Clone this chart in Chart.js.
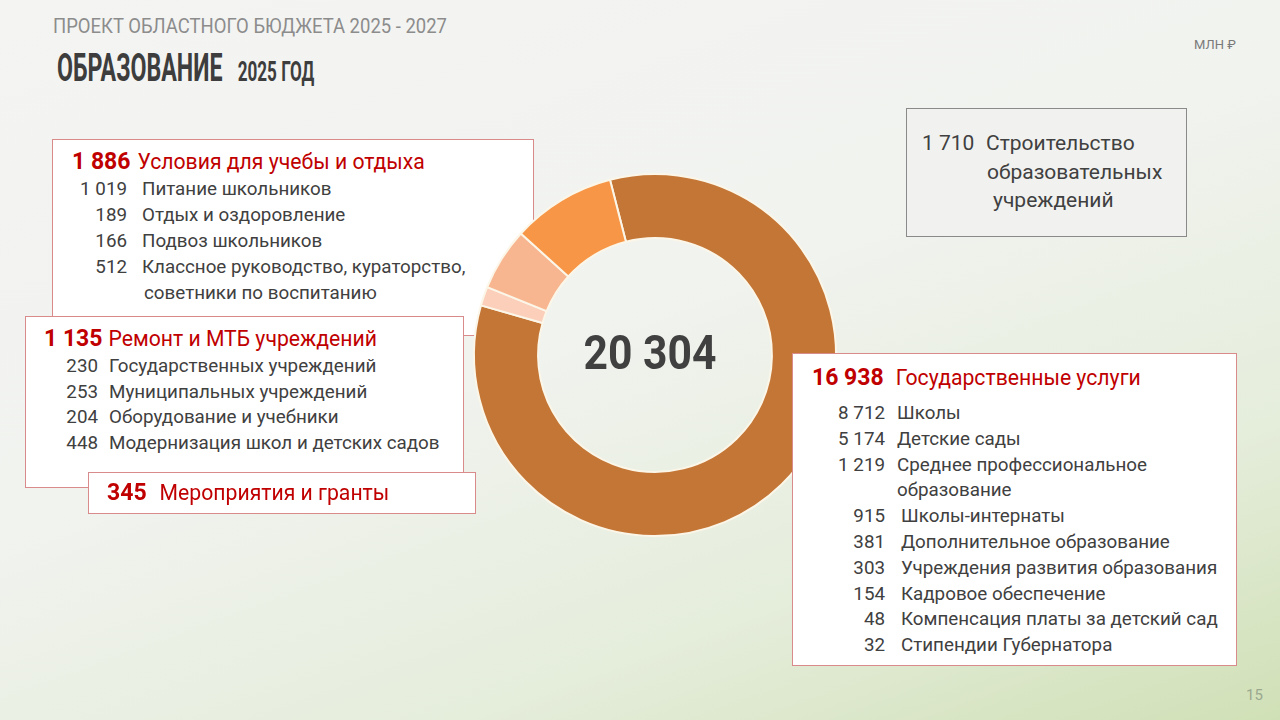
<!DOCTYPE html>
<html>
<head>
<meta charset="utf-8">
<script src="https://cdn.jsdelivr.net/npm/chart.js@4"></script>
<style>
  html, body { margin: 0; padding: 0; }
  body {
    width: 1280px; height: 720px; position: relative; overflow: hidden;
    font-family: Roboto, "Noto Sans", sans-serif;
    background: linear-gradient(160deg, #f4f4f3 0%, #f1f3ef 45%, #e5eddb 75%, #d0e0b6 100%);
    color: #404040;
  }
  .abs { position: absolute; white-space: nowrap; }
  .sup { left: 53px; top: 14px; font-size: 21px; color: #8c8c8c; transform: scaleX(0.88); transform-origin: left; }
  .title { left: 57px; top: 46px; font-size: 38px; font-weight: 700; color: #3d3d3d; transform: scaleX(0.61); transform-origin: left; }
  .title small { font-size: 28px; margin-left: 25px; }
  .unit { left: 1194px; top: 37px; font-size: 13px; color: #7a7a7a; }
  .page { left: 1246px; top: 686px; font-size: 15px; color: #9aa890; }
  .box { position: absolute; background: #fff; border: 1px solid #d98a8a; box-sizing: border-box; }
  .gray { background: #f1f2f0; border: 1px solid #8a8a8a; }
  .hd { position: absolute; white-space: nowrap; color: #c00000; font-size: 21.2px; }
  .hd b { font-weight: 700; font-size: 23px; }
  .ln { position: absolute; white-space: nowrap; font-size: 18.8px; color: #404040; }
  .num { position: absolute; text-align: right; }
  #wrap { position: absolute; left: 455px; top: 155px; width: 400px; height: 400px; }
  .total { left: 540px; top: 324px; width: 220px; text-align: center; font-size: 49px; font-weight: 700; color: #404040; transform: scaleX(0.87); }
</style>
</head>
<body>
<div class="abs sup">ПРОЕКТ ОБЛАСТНОГО БЮДЖЕТА 2025 - 2027</div>
<div class="abs title">ОБРАЗОВАНИЕ<small>2025 ГОД</small></div>
<div class="abs unit">МЛН ₽</div>
<div class="abs page">15</div>

<div class="box" id="box1" style="left:52px;top:139px;width:482px;height:197px;"></div>
<div id="wrap"><canvas id="donut" width="400" height="400"></canvas></div>
<div class="abs total" id="total"></div>
<div class="box" id="box2" style="left:25px;top:316px;width:439px;height:172px;"></div>
<div class="box" id="box3" style="left:88px;top:472px;width:388px;height:42px;"></div>
<div class="box" id="box4" style="left:792px;top:353px;width:445px;height:313px;"></div>
<div class="box gray" id="box5" style="left:906px;top:108px;width:281px;height:129px;"></div>

<script>
// Donut data (млн руб.)
const categories = ['Государственные услуги', 'Мероприятия и гранты', 'Ремонт и МТБ учреждений', 'Условия для учебы и отдыха'];
const amounts = [16938, 345, 1135, 1886];
const sliceColors = ['#c47636', '#fbcfba', '#f8b690', '#f79646'];

// Breakdown lists
const uslovItems = ['Питание школьников', 'Отдых и оздоровление', 'Подвоз  школьников', 'Классное руководство, кураторство,'];
const uslovValues = ['1 019', '189', '166', '512'];
const remontItems = ['Государственных учреждений', 'Муниципальных учреждений', 'Оборудование и учебники', 'Модернизация школ и детских садов'];
const remontValues = ['230', '253', '204', '448'];
const gosItems = ['Школы', 'Детские сады', 'Среднее профессиональное', 'образование', 'Школы-интернаты', 'Дополнительное образование',
  'Учреждения развития образования', 'Кадровое обеспечение', 'Компенсация платы за детский сад', 'Стипендии Губернатора'];
const gosValues = ['8 712', '5 174', '1 219', '', '915', '381', '303', '154', '48', '32'];
const stroyValue = '1 710';
const stroyLines = ['Строительство', 'образовательных', 'учреждений'];

function fmt(n) { return String(n).replace(/\B(?=(\d{3})+(?!\d))/g, ' '); }

const total = amounts.reduce((a, b) => a + b, 0);
document.getElementById('total').textContent = fmt(total);

function put(parent, cls, text, x, y, extra) {
  const d = document.createElement('div');
  d.className = cls;
  d.textContent = text;
  d.style.left = x + 'px';
  d.style.top = y + 'px';
  if (extra) Object.assign(d.style, extra);
  parent.appendChild(d);
  return d;
}
function header(parent, num, label, x, y, gap) {
  const d = document.createElement('div');
  d.className = 'hd';
  d.style.left = x + 'px';
  d.style.top = y + 'px';
  d.innerHTML = '<b>' + num + '</b>' + '<span style="margin-left:' + gap + 'px">' + label + '</span>';
  parent.appendChild(d);
}

// box 1 — условия
const b1 = document.getElementById('box1');
header(b1, fmt(amounts[3]), categories[3], 19, 8, 7);
uslovItems.forEach((t, i) => {
  put(b1, 'ln num', uslovValues[i], 0, 38 + i * 26, { width: '74px' });
  put(b1, 'ln', t, 89, 38 + i * 26);
});
put(b1, 'ln', 'советники по воспитанию', 91, 142);

// box 2 — ремонт
const b2 = document.getElementById('box2');
header(b2, fmt(amounts[2]), categories[2], 18, 8, 6);
remontItems.forEach((t, i) => {
  put(b2, 'ln num', remontValues[i], 0, 38 + i * 25.5, { width: '72px' });
  put(b2, 'ln', t, 83, 38 + i * 25.5);
});

// box 3 — мероприятия
const b3 = document.getElementById('box3');
header(b3, fmt(amounts[1]), categories[1], 18, 6, 13);

// box 4 — гос. услуги
const b4 = document.getElementById('box4');
header(b4, fmt(amounts[0]), categories[0], 19, 10, 12);
gosItems.forEach((t, i) => {
  if (gosValues[i]) put(b4, 'ln num', gosValues[i], 0, 48 + i * 25.8, { width: '92px' });
  put(b4, 'ln', t, i < 4 ? 104 : 108, 48 + i * 25.8);
});

// box 5 — строительство
const b5 = document.getElementById('box5');
put(b5, 'ln', stroyValue, 15, 22, { fontSize: '21px' });
put(b5, 'ln', stroyLines[0], 79, 22, { fontSize: '21px' });
put(b5, 'ln', stroyLines[1], 80, 51, { fontSize: '21px' });
put(b5, 'ln', stroyLines[2], 86, 79, { fontSize: '21px' });

// Donut chart
const ctx = document.getElementById('donut').getContext('2d');
const chart = new Chart(ctx, {
  type: 'doughnut',
  data: {
    labels: categories,
    datasets: [{
      data: amounts,
      backgroundColor: sliceColors,
      borderColor: '#fbf6e8',
      borderWidth: 2,
      radius: 181
    }]
  },
  options: {
    responsive: false,
    animation: false,
    cutout: '64.6%',
    rotation: -14.4,
    plugins: {
      legend: { display: false },
      tooltip: { enabled: false }
    }
  }
});
</script>
</body>
</html>
